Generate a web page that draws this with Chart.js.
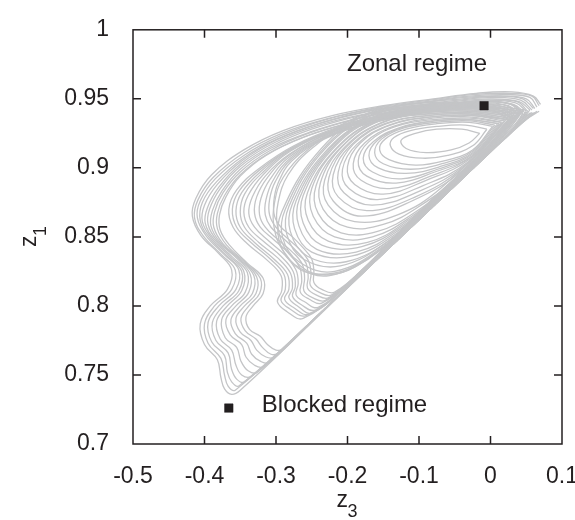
<!DOCTYPE html>
<html>
<head>
<meta charset="utf-8">
<script src="https://cdn.jsdelivr.net/npm/chart.js@4.4.1/dist/chart.umd.min.js"></script>
<style>
  html, body { margin: 0; padding: 0; background: #fff; }
  #wrap { width: 575px; height: 520px; position: relative; }
</style>
</head>
<body>
<div id="wrap"><canvas id="c"></canvas></div>
<script>
// axis ticks
const z3Ticks = [-0.5, -0.4, -0.3, -0.2, -0.1, 0, 0.1];
const z3TickLabels = ['-0.5', '-0.4', '-0.3', '-0.2', '-0.1', '0', '0.1'];
const z1Ticks = [0.7, 0.75, 0.8, 0.85, 0.9, 0.95, 1];
const z1TickLabels = ['0.7', '0.75', '0.8', '0.85', '0.9', '0.95', '1'];

// regimes [z3, z1]
const zonalPoint = [-0.009, 0.945];
const blockedPoint = [-0.366, 0.726];

// trajectory loops, [z3, z1]
// outer excursions towards the blocked regime
const loopA1 = [[0.070,0.946],[0.060,0.952],[0.030,0.955],[-0.020,0.954],[-0.080,0.950],[-0.150,0.945],[-0.220,0.938],[-0.290,0.927],[-0.345,0.913],[-0.390,0.895],[-0.412,0.878],[-0.417,0.865],[-0.405,0.851],[-0.380,0.838],[-0.362,0.826],[-0.368,0.812],[-0.392,0.800],[-0.406,0.787],[-0.400,0.772],[-0.382,0.761],[-0.377,0.748],[-0.372,0.740],[-0.362,0.736],[-0.350,0.739],[-0.250,0.788],[-0.150,0.838],[-0.050,0.887],[0.020,0.921],[0.050,0.935],[0.068,0.941]];
const loopA1b = [[0.068,0.945],[0.058,0.952],[0.028,0.954],[-0.025,0.953],[-0.085,0.949],[-0.155,0.944],[-0.225,0.936],[-0.292,0.925],[-0.345,0.911],[-0.388,0.893],[-0.409,0.877],[-0.414,0.864],[-0.402,0.851],[-0.376,0.837],[-0.357,0.826],[-0.362,0.812],[-0.386,0.800],[-0.400,0.787],[-0.395,0.773],[-0.377,0.762],[-0.372,0.750],[-0.367,0.742],[-0.357,0.739],[-0.250,0.789],[-0.150,0.838],[-0.050,0.887],[0.020,0.921],[0.050,0.935],[0.065,0.941]];
const loopA2 = [[0.065,0.944],[0.055,0.951],[0.025,0.953],[-0.030,0.952],[-0.090,0.948],[-0.160,0.943],[-0.230,0.935],[-0.295,0.923],[-0.345,0.909],[-0.385,0.892],[-0.406,0.876],[-0.410,0.864],[-0.398,0.851],[-0.372,0.837],[-0.352,0.826],[-0.356,0.812],[-0.380,0.800],[-0.395,0.788],[-0.390,0.774],[-0.372,0.764],[-0.368,0.752],[-0.362,0.745],[-0.352,0.742],[-0.250,0.789],[-0.150,0.838],[-0.050,0.887],[0.020,0.922],[0.050,0.936],[0.062,0.940]];
const loopA2b = [[0.062,0.943],[0.050,0.950],[0.018,0.952],[-0.035,0.951],[-0.095,0.947],[-0.165,0.942],[-0.235,0.933],[-0.298,0.921],[-0.346,0.907],[-0.383,0.890],[-0.403,0.875],[-0.406,0.862],[-0.394,0.850],[-0.368,0.836],[-0.348,0.825],[-0.352,0.811],[-0.374,0.800],[-0.389,0.788],[-0.384,0.775],[-0.367,0.766],[-0.362,0.754],[-0.355,0.747],[-0.344,0.745],[-0.250,0.789],[-0.150,0.838],[-0.050,0.887],[0.020,0.922],[0.048,0.935],[0.060,0.940]];
const loopA3 = [[0.060,0.943],[0.045,0.950],[0.010,0.952],[-0.040,0.950],[-0.100,0.947],[-0.170,0.941],[-0.240,0.932],[-0.300,0.920],[-0.348,0.905],[-0.382,0.888],[-0.400,0.873],[-0.403,0.861],[-0.390,0.849],[-0.365,0.836],[-0.345,0.825],[-0.348,0.811],[-0.368,0.800],[-0.383,0.789],[-0.378,0.776],[-0.362,0.768],[-0.356,0.757],[-0.348,0.750],[-0.335,0.749],[-0.250,0.789],[-0.150,0.838],[-0.050,0.887],[0.020,0.922],[0.045,0.935],[0.058,0.940]];
const loopA3b = [[0.058,0.942],[0.042,0.949],[0.005,0.951],[-0.045,0.949],[-0.105,0.945],[-0.175,0.939],[-0.245,0.930],[-0.303,0.918],[-0.349,0.903],[-0.380,0.886],[-0.396,0.871],[-0.399,0.860],[-0.386,0.848],[-0.360,0.835],[-0.340,0.824],[-0.343,0.810],[-0.362,0.800],[-0.376,0.790],[-0.371,0.777],[-0.355,0.770],[-0.349,0.760],[-0.339,0.753],[-0.326,0.752],[-0.250,0.789],[-0.150,0.838],[-0.050,0.887],[0.020,0.922],[0.044,0.935],[0.056,0.940]];
const loopA4 = [[0.055,0.942],[0.040,0.948],[0.000,0.950],[-0.050,0.948],[-0.110,0.944],[-0.180,0.938],[-0.250,0.928],[-0.305,0.916],[-0.350,0.901],[-0.378,0.885],[-0.393,0.870],[-0.395,0.859],[-0.382,0.847],[-0.356,0.835],[-0.336,0.823],[-0.338,0.810],[-0.356,0.800],[-0.370,0.790],[-0.364,0.779],[-0.348,0.772],[-0.342,0.763],[-0.330,0.757],[-0.318,0.756],[-0.250,0.789],[-0.150,0.838],[-0.050,0.887],[0.020,0.922],[0.045,0.935],[0.055,0.942]];
const loopA4b = [[0.052,0.941],[0.037,0.948],[-0.002,0.949],[-0.055,0.947],[-0.115,0.943],[-0.185,0.936],[-0.252,0.926],[-0.308,0.914],[-0.350,0.899],[-0.376,0.883],[-0.389,0.869],[-0.391,0.858],[-0.378,0.846],[-0.352,0.834],[-0.331,0.822],[-0.333,0.809],[-0.350,0.800],[-0.363,0.790],[-0.357,0.780],[-0.341,0.773],[-0.334,0.765],[-0.322,0.760],[-0.310,0.759],[-0.250,0.789],[-0.150,0.838],[-0.050,0.887],[0.020,0.922],[0.042,0.934],[0.052,0.941]];
const loopA5 = [[0.050,0.941],[0.035,0.947],[-0.005,0.949],[-0.060,0.946],[-0.120,0.942],[-0.190,0.935],[-0.255,0.925],[-0.310,0.912],[-0.350,0.897],[-0.374,0.882],[-0.386,0.868],[-0.387,0.857],[-0.374,0.845],[-0.348,0.833],[-0.327,0.821],[-0.328,0.809],[-0.344,0.800],[-0.356,0.791],[-0.350,0.781],[-0.335,0.775],[-0.327,0.768],[-0.314,0.763],[-0.303,0.763],[-0.250,0.789],[-0.150,0.838],[-0.050,0.887],[0.020,0.922],[0.042,0.934],[0.050,0.941]];
const loopA5b = [[0.048,0.940],[0.032,0.946],[-0.008,0.948],[-0.062,0.945],[-0.125,0.941],[-0.195,0.933],[-0.258,0.923],[-0.312,0.910],[-0.350,0.895],[-0.372,0.880],[-0.382,0.867],[-0.382,0.856],[-0.369,0.844],[-0.344,0.832],[-0.322,0.820],[-0.323,0.809],[-0.338,0.800],[-0.349,0.791],[-0.343,0.782],[-0.328,0.776],[-0.319,0.770],[-0.307,0.765],[-0.296,0.766],[-0.250,0.789],[-0.150,0.838],[-0.050,0.887],[0.020,0.922],[0.040,0.934],[0.048,0.940]];
const loopA6 = [[0.045,0.940],[0.030,0.946],[-0.010,0.948],[-0.065,0.945],[-0.130,0.940],[-0.200,0.932],[-0.262,0.922],[-0.314,0.909],[-0.350,0.894],[-0.370,0.879],[-0.379,0.866],[-0.378,0.855],[-0.365,0.844],[-0.340,0.831],[-0.318,0.820],[-0.318,0.809],[-0.332,0.800],[-0.342,0.792],[-0.337,0.783],[-0.322,0.778],[-0.312,0.772],[-0.300,0.768],[-0.290,0.769],[-0.250,0.789],[-0.150,0.838],[-0.050,0.887],[0.020,0.922],[0.040,0.934],[0.045,0.940]];
// middle loops
const loopB1 = [[0.045,0.939],[0.030,0.946],[-0.010,0.948],[-0.070,0.945],[-0.140,0.939],[-0.210,0.930],[-0.275,0.916],[-0.325,0.899],[-0.355,0.884],[-0.366,0.870],[-0.360,0.857],[-0.340,0.845],[-0.312,0.833],[-0.293,0.822],[-0.292,0.811],[-0.298,0.803],[-0.285,0.796],[-0.262,0.791],[-0.200,0.815],[-0.100,0.864],[0.000,0.913],[0.035,0.932],[0.045,0.939]];
const loopB1b = [[0.042,0.939],[0.028,0.946],[-0.012,0.948],[-0.072,0.945],[-0.142,0.938],[-0.212,0.929],[-0.276,0.915],[-0.324,0.898],[-0.352,0.883],[-0.361,0.870],[-0.355,0.857],[-0.335,0.846],[-0.308,0.834],[-0.289,0.823],[-0.287,0.812],[-0.293,0.804],[-0.281,0.798],[-0.258,0.793],[-0.200,0.815],[-0.100,0.864],[0.000,0.913],[0.032,0.932],[0.042,0.939]];
const loopB2 = [[0.040,0.938],[0.025,0.945],[-0.015,0.947],[-0.075,0.944],[-0.145,0.938],[-0.215,0.928],[-0.278,0.914],[-0.322,0.897],[-0.348,0.882],[-0.356,0.869],[-0.350,0.857],[-0.330,0.846],[-0.303,0.834],[-0.284,0.823],[-0.282,0.812],[-0.288,0.805],[-0.276,0.799],[-0.254,0.794],[-0.200,0.815],[-0.100,0.864],[0.000,0.913],[0.030,0.931],[0.040,0.938]];
const loopB2b = [[0.038,0.938],[0.022,0.945],[-0.018,0.946],[-0.078,0.943],[-0.148,0.937],[-0.218,0.927],[-0.279,0.913],[-0.320,0.896],[-0.344,0.881],[-0.350,0.868],[-0.344,0.857],[-0.324,0.846],[-0.298,0.835],[-0.280,0.824],[-0.277,0.813],[-0.282,0.806],[-0.270,0.800],[-0.250,0.795],[-0.200,0.815],[-0.100,0.865],[0.000,0.914],[0.028,0.931],[0.038,0.938]];
const loopB3 = [[0.035,0.937],[0.020,0.944],[-0.020,0.946],[-0.080,0.943],[-0.150,0.937],[-0.220,0.927],[-0.280,0.912],[-0.318,0.895],[-0.339,0.880],[-0.345,0.868],[-0.338,0.857],[-0.318,0.847],[-0.293,0.836],[-0.276,0.825],[-0.273,0.814],[-0.277,0.807],[-0.265,0.801],[-0.245,0.797],[-0.200,0.816],[-0.100,0.865],[0.000,0.914],[0.025,0.930],[0.035,0.937]];
const loopB3b = [[0.032,0.937],[0.018,0.943],[-0.022,0.945],[-0.082,0.942],[-0.152,0.936],[-0.222,0.926],[-0.281,0.910],[-0.315,0.894],[-0.333,0.879],[-0.338,0.867],[-0.330,0.857],[-0.310,0.847],[-0.288,0.837],[-0.272,0.826],[-0.269,0.816],[-0.272,0.808],[-0.260,0.803],[-0.241,0.799],[-0.195,0.818],[-0.100,0.866],[0.000,0.915],[0.022,0.929],[0.032,0.937]];
const loopB4 = [[0.030,0.936],[0.015,0.943],[-0.025,0.945],[-0.085,0.942],[-0.155,0.936],[-0.225,0.925],[-0.282,0.909],[-0.312,0.893],[-0.327,0.879],[-0.330,0.867],[-0.322,0.857],[-0.303,0.848],[-0.282,0.838],[-0.267,0.828],[-0.264,0.818],[-0.266,0.810],[-0.254,0.805],[-0.236,0.802],[-0.190,0.821],[-0.100,0.866],[0.000,0.915],[0.020,0.929],[0.030,0.936]];
const loopB4b = [[0.029,0.936],[0.012,0.942],[-0.028,0.944],[-0.088,0.941],[-0.158,0.935],[-0.226,0.924],[-0.281,0.908],[-0.308,0.892],[-0.321,0.878],[-0.323,0.866],[-0.315,0.857],[-0.297,0.848],[-0.277,0.839],[-0.263,0.830],[-0.260,0.820],[-0.261,0.811],[-0.249,0.806],[-0.231,0.804],[-0.185,0.823],[-0.100,0.867],[0.000,0.916],[0.019,0.929],[0.029,0.936]];
const loopB5 = [[0.028,0.936],[0.010,0.942],[-0.030,0.944],[-0.090,0.941],[-0.160,0.934],[-0.228,0.923],[-0.280,0.907],[-0.304,0.891],[-0.314,0.877],[-0.315,0.866],[-0.307,0.857],[-0.290,0.849],[-0.272,0.840],[-0.258,0.831],[-0.255,0.821],[-0.256,0.813],[-0.244,0.808],[-0.226,0.806],[-0.180,0.826],[-0.100,0.867],[0.000,0.916],[0.018,0.929],[0.028,0.936]];
const loopB5b = [[0.026,0.935],[0.008,0.941],[-0.032,0.943],[-0.092,0.940],[-0.162,0.933],[-0.230,0.922],[-0.279,0.906],[-0.301,0.890],[-0.309,0.877],[-0.309,0.866],[-0.300,0.857],[-0.284,0.849],[-0.267,0.841],[-0.254,0.832],[-0.251,0.823],[-0.252,0.815],[-0.240,0.810],[-0.222,0.808],[-0.175,0.828],[-0.100,0.868],[0.000,0.917],[0.016,0.928],[0.026,0.935]];
const loopB6 = [[0.025,0.935],[0.005,0.941],[-0.035,0.943],[-0.095,0.940],[-0.165,0.933],[-0.232,0.921],[-0.278,0.905],[-0.297,0.889],[-0.303,0.876],[-0.302,0.865],[-0.293,0.857],[-0.277,0.850],[-0.262,0.842],[-0.250,0.834],[-0.247,0.825],[-0.247,0.817],[-0.236,0.812],[-0.218,0.810],[-0.170,0.831],[-0.100,0.868],[0.000,0.917],[0.015,0.928],[0.025,0.935]];
// inner spirals around the zonal regime
const loopC1 = [[-0.015,0.925],[-0.040,0.928],[-0.075,0.928],[-0.105,0.925],[-0.125,0.920],[-0.118,0.914],[-0.090,0.911],[-0.055,0.913],[-0.030,0.918],[-0.015,0.925]];
const loopC2 = [[-0.005,0.928],[-0.035,0.931],[-0.075,0.930],[-0.112,0.927],[-0.135,0.922],[-0.140,0.916],[-0.128,0.910],[-0.095,0.907],[-0.060,0.909],[-0.025,0.916],[-0.005,0.928]];
const loopC3 = [[0.003,0.930],[-0.030,0.933],[-0.075,0.932],[-0.118,0.928],[-0.147,0.921],[-0.155,0.913],[-0.142,0.906],[-0.105,0.902],[-0.065,0.905],[-0.025,0.913],[0.003,0.930]];
const loopC3b = [[0.006,0.931],[-0.030,0.934],[-0.076,0.933],[-0.121,0.929],[-0.152,0.921],[-0.162,0.911],[-0.150,0.903],[-0.112,0.899],[-0.068,0.903],[-0.025,0.912],[0.006,0.931]];
const loopC4 = [[0.010,0.932],[-0.030,0.935],[-0.078,0.934],[-0.125,0.929],[-0.158,0.920],[-0.170,0.909],[-0.157,0.900],[-0.118,0.896],[-0.070,0.901],[-0.025,0.911],[0.010,0.932]];
const loopC4b = [[0.012,0.932],[-0.030,0.935],[-0.079,0.934],[-0.128,0.929],[-0.164,0.919],[-0.178,0.907],[-0.165,0.897],[-0.125,0.892],[-0.074,0.899],[-0.025,0.910],[0.012,0.932]];
const loopC5 = [[0.015,0.933],[-0.030,0.936],[-0.080,0.935],[-0.132,0.930],[-0.170,0.919],[-0.185,0.905],[-0.173,0.894],[-0.132,0.889],[-0.078,0.897],[-0.025,0.909],[0.015,0.933]];
const loopC5b = [[0.017,0.933],[-0.030,0.937],[-0.081,0.936],[-0.136,0.930],[-0.176,0.918],[-0.192,0.903],[-0.181,0.891],[-0.141,0.885],[-0.084,0.894],[-0.027,0.908],[0.017,0.933]];
const loopC6 = [[0.020,0.934],[-0.030,0.938],[-0.082,0.937],[-0.140,0.931],[-0.182,0.918],[-0.200,0.901],[-0.190,0.888],[-0.150,0.881],[-0.090,0.891],[-0.030,0.906],[0.020,0.934]];
const loopC6b = [[0.022,0.935],[-0.030,0.938],[-0.083,0.937],[-0.142,0.931],[-0.187,0.917],[-0.207,0.899],[-0.198,0.885],[-0.158,0.877],[-0.095,0.887],[-0.032,0.904],[0.022,0.935]];
const loopC7 = [[0.025,0.935],[-0.030,0.939],[-0.085,0.938],[-0.145,0.932],[-0.192,0.917],[-0.213,0.897],[-0.205,0.882],[-0.165,0.873],[-0.100,0.883],[-0.035,0.902],[0.025,0.935]];
const loopC7b = [[0.026,0.935],[-0.030,0.939],[-0.088,0.938],[-0.148,0.932],[-0.196,0.916],[-0.220,0.895],[-0.213,0.879],[-0.173,0.869],[-0.105,0.879],[-0.038,0.900],[0.026,0.935]];
const loopC8 = [[0.028,0.936],[-0.030,0.940],[-0.090,0.939],[-0.150,0.933],[-0.200,0.916],[-0.226,0.893],[-0.220,0.876],[-0.180,0.865],[-0.110,0.876],[-0.040,0.898],[0.028,0.936]];
const loopC8b = [[0.030,0.936],[-0.030,0.940],[-0.091,0.939],[-0.152,0.933],[-0.204,0.915],[-0.232,0.891],[-0.227,0.873],[-0.190,0.861],[-0.130,0.866],[-0.070,0.885],[0.030,0.936]];
const loopC9 = [[0.032,0.937],[-0.030,0.941],[-0.092,0.940],[-0.155,0.934],[-0.208,0.915],[-0.238,0.889],[-0.234,0.870],[-0.200,0.857],[-0.150,0.859],[-0.100,0.872],[-0.040,0.896],[0.032,0.937]];
const loopC9b = [[0.033,0.937],[-0.030,0.941],[-0.093,0.940],[-0.157,0.934],[-0.211,0.914],[-0.244,0.887],[-0.241,0.867],[-0.209,0.853],[-0.158,0.854],[-0.105,0.868],[-0.042,0.894],[0.033,0.937]];
const loopC10 = [[0.035,0.938],[-0.030,0.942],[-0.095,0.941],[-0.160,0.934],[-0.215,0.914],[-0.250,0.885],[-0.248,0.865],[-0.218,0.850],[-0.165,0.850],[-0.110,0.865],[-0.045,0.892],[0.035,0.938]];
const loopC10b = [[0.036,0.938],[-0.030,0.942],[-0.097,0.941],[-0.162,0.934],[-0.218,0.913],[-0.256,0.882],[-0.255,0.862],[-0.227,0.847],[-0.172,0.846],[-0.115,0.862],[-0.048,0.890],[0.036,0.938]];
const loopC11 = [[0.038,0.939],[-0.030,0.943],[-0.100,0.942],[-0.165,0.935],[-0.222,0.913],[-0.262,0.880],[-0.262,0.860],[-0.236,0.844],[-0.180,0.843],[-0.120,0.859],[-0.050,0.889],[0.038,0.939]];
const loopC11b = [[0.039,0.939],[-0.030,0.943],[-0.101,0.942],[-0.168,0.935],[-0.226,0.912],[-0.267,0.878],[-0.268,0.858],[-0.243,0.841],[-0.188,0.839],[-0.125,0.856],[-0.052,0.887],[0.039,0.939]];
const loopC12 = [[0.040,0.940],[-0.030,0.944],[-0.102,0.943],[-0.170,0.935],[-0.230,0.911],[-0.272,0.876],[-0.274,0.856],[-0.250,0.839],[-0.195,0.836],[-0.130,0.853],[-0.055,0.886],[0.040,0.940]];
const loopC12b = [[0.041,0.940],[-0.030,0.944],[-0.104,0.943],[-0.172,0.935],[-0.234,0.910],[-0.277,0.874],[-0.280,0.854],[-0.256,0.836],[-0.202,0.832],[-0.135,0.850],[-0.058,0.885],[0.041,0.940]];
const loopC13 = [[0.042,0.941],[-0.030,0.945],[-0.105,0.944],[-0.175,0.936],[-0.238,0.910],[-0.282,0.872],[-0.285,0.852],[-0.262,0.834],[-0.210,0.829],[-0.140,0.848],[-0.060,0.884],[0.042,0.941]];
const loopC13b = [[0.043,0.941],[-0.030,0.945],[-0.106,0.944],[-0.178,0.936],[-0.242,0.909],[-0.287,0.870],[-0.291,0.850],[-0.268,0.832],[-0.218,0.825],[-0.145,0.845],[-0.062,0.883],[0.043,0.941]];
const loopC14 = [[0.045,0.941],[-0.030,0.946],[-0.108,0.945],[-0.180,0.937],[-0.245,0.909],[-0.292,0.868],[-0.296,0.848],[-0.274,0.830],[-0.225,0.822],[-0.150,0.842],[-0.065,0.882],[0.045,0.941]];
const loopC15 = [[0.046,0.942],[-0.030,0.947],[-0.110,0.945],[-0.185,0.936],[-0.250,0.914],[-0.283,0.895],[-0.297,0.875],[-0.298,0.858],[-0.282,0.838],[-0.240,0.823],[-0.170,0.835],[-0.080,0.876],[0.046,0.942]];
const loopC16 = [[0.047,0.942],[-0.030,0.947],[-0.112,0.946],[-0.190,0.936],[-0.258,0.912],[-0.290,0.893],[-0.302,0.875],[-0.303,0.858],[-0.290,0.840],[-0.255,0.824],[-0.190,0.828],[-0.100,0.867],[0.047,0.942]];

const loops = [
  loopA1, loopA1b, loopA2, loopA2b, loopA3, loopA3b, loopA4, loopA4b, loopA5, loopA5b, loopA6,
  loopB1, loopB1b, loopB2, loopB2b, loopB3, loopB3b, loopB4, loopB4b, loopB5, loopB5b, loopB6,
  loopC1, loopC2, loopC3, loopC3b, loopC4, loopC4b, loopC5, loopC5b, loopC6, loopC6b, loopC7, loopC7b,
  loopC8, loopC8b, loopC9, loopC9b, loopC10, loopC10b, loopC11, loopC11b, loopC12, loopC12b,
  loopC13, loopC13b, loopC14, loopC15, loopC16
];

const INK = '#231f20';
const FONT = "'Liberation Sans', Arial, Helvetica, sans-serif";

const datasets = [{
  label: 'regimes', data: [zonalPoint, blockedPoint], order: 0,
  pointStyle: 'rect', pointRadius: 6, pointBorderWidth: 0.5,
  backgroundColor: INK, borderColor: INK, showLine: false
}];
loops.forEach((l, i) => datasets.push({
  label: 'loop' + i, data: l, order: 1, showLine: true,
  borderColor: '#c4c5c7', borderWidth: 1.3, pointRadius: 0, tension: 0.4, fill: false
}));

// frame, inward ticks, axis titles and regime labels
const decor = {
  id: 'decor',
  afterDraw(chart) {
    const { ctx, chartArea: a, scales: { x, y } } = chart;
    ctx.save();
    ctx.strokeStyle = INK; ctx.lineWidth = 1.5;
    ctx.strokeRect(a.left, a.top, a.right - a.left, a.bottom - a.top);
    ctx.beginPath();
    z3Ticks.slice(1, -1).forEach(v => {
      const px = x.getPixelForValue(v);
      ctx.moveTo(px, a.bottom); ctx.lineTo(px, a.bottom - 8);
      ctx.moveTo(px, a.top); ctx.lineTo(px, a.top + 8);
    });
    z1Ticks.slice(1, -1).forEach(v => {
      const py = y.getPixelForValue(v);
      ctx.moveTo(a.left, py); ctx.lineTo(a.left + 8, py);
      ctx.moveTo(a.right, py); ctx.lineTo(a.right - 8, py);
    });
    ctx.stroke();

    ctx.fillStyle = INK;
    ctx.textBaseline = 'alphabetic';
    ctx.textAlign = 'left';
    // x title z_3
    const cx = (a.left + a.right) / 2;
    ctx.font = '23px ' + FONT;
    ctx.fillText('z', cx - 11, a.bottom + 63);
    ctx.font = '18px ' + FONT;
    ctx.fillText('3', cx, a.bottom + 73);
    // y title z_1
    const cy = (a.top + a.bottom) / 2;
    ctx.save();
    ctx.translate(36, cy + 10);
    ctx.rotate(-Math.PI / 2);
    ctx.font = '23px ' + FONT;
    ctx.fillText('z', 0, 0);
    ctx.font = '18px ' + FONT;
    ctx.fillText('1', 11, 10);
    ctx.restore();

    // regime labels
    ctx.font = '24px ' + FONT;
    ctx.textAlign = 'right';
    ctx.fillText('Zonal regime', x.getPixelForValue(zonalPoint[0]) + 3, y.getPixelForValue(zonalPoint[1]) - 35);
    ctx.textAlign = 'left';
    ctx.fillText('Blocked regime', x.getPixelForValue(blockedPoint[0]) + 33, y.getPixelForValue(blockedPoint[1]) + 4);
    ctx.restore();
  }
};

new Chart(document.getElementById('c'), {
  type: 'scatter',
  data: { datasets },
  options: {
    responsive: true, maintainAspectRatio: false, animation: false,
    layout: { padding: { top: 16, right: 13, left: 0, bottom: 0 } },
    plugins: { legend: { display: false }, tooltip: { enabled: false } },
    scales: {
      x: {
        type: 'linear', min: -0.5, max: 0.1,
        afterBuildTicks: s => { s.ticks = z3Ticks.map(v => ({ value: v })); },
        afterFit: s => { s.height = 76; s.paddingLeft = 0; s.paddingRight = 13; },
        ticks: { callback: (v, i) => z3TickLabels[i], color: INK, font: { family: FONT, size: 23 }, padding: 11, maxRotation: 0, autoSkip: false },
        grid: { display: false }, border: { display: false }
      },
      y: {
        type: 'linear', min: 0.7, max: 1,
        afterBuildTicks: s => { s.ticks = z1Ticks.map(v => ({ value: v })); },
        afterFit: s => { s.width = 133; },
        ticks: { callback: (v, i) => z1TickLabels[i], color: INK, font: { family: FONT, size: 23 }, padding: 16, autoSkip: false },
        grid: { display: false }, border: { display: false }
      }
    }
  },
  plugins: [decor]
});
</script>
</body>
</html>
